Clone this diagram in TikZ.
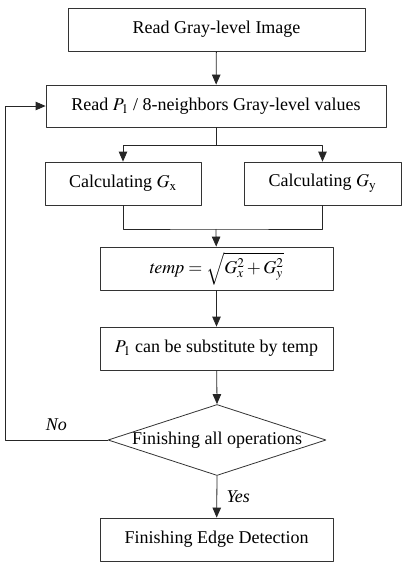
\documentclass[tikz,border=0pt]{standalone}
\usepackage{mathptmx}
\usepackage{fontspec}
\setmainfont{Liberation Serif}
\usetikzlibrary{arrows.meta,shapes.geometric}
\tikzset{
  box/.style={draw=black!80, line width=0.8pt, minimum height=43pt, inner sep=0pt},
  link/.style={draw=black!85, line width=0.8pt},
}
\begin{document}
\begin{tikzpicture}[x=1pt, y=-1pt, font=\fontsize{18}{21}\selectfont, line join=round, >={Triangle[length=10pt,width=8.5pt]}]
				\useasboundingbox (0,0) rectangle (405,568);
				\node[box, minimum width=297pt] (read) at (216.5,29.5) {Read Gray-level Image};
				\node[box, minimum width=340pt, minimum height=42pt] (nbr) at (216,106) {Read $P_{1}$ / 8-neighbors Gray-level values};
				\node[box, minimum width=156pt] (gx) at (123,183.5) {Calculating $G_{\mathrm{x}}$};
				\node[box, minimum width=157pt] (gy) at (322.5,183.5) {Calculating $G_{\mathrm{y}}$};
				\node[box, minimum width=233pt] (temp) at (216.5,268.5) {$\mathit{temp}=\sqrt{G_x^2+G_y^2}$};
				\node[box, minimum width=233pt] (subst) at (216.5,348.5) {$P_{1}$ can be substitute by temp};
				\node[diamond, draw=black!80, line width=0.8pt, minimum width=218pt, minimum height=71pt, inner sep=0pt] (dec) at (217,440) {};
				\node (dectext) at (dec.center) {Finishing all operations};
				\node[box, minimum width=233pt] (done) at (216.5,539.5) {Finishing Edge Detection};
				\coordinate (split) at (216,145);
				\coordinate (join) at (216,229);
				\coordinate (back) at (5,440);
				\draw[link,->] (read) -- (nbr);
				\draw[link] (nbr.south) -- (split);
				\draw[link,->] (split) -| (gx);
				\draw[link,->] (split) -| (gy);
				\draw[link] (gx.south) |- (join) -| (gy.south);
				\draw[link,->] (join) -- (temp);
				\draw[link,->] (temp) -- (subst);
				\draw[link,->] (subst) -- (dec.north);
				\draw[link,->] (dec.south) -- node[right, xshift=6pt] {\itshape Yes} (done);
				\draw[link,->] (dec.west) -- node[above, yshift=6pt] {\itshape No} (back) |- (nbr.west);
			\end{tikzpicture}
\end{document}
